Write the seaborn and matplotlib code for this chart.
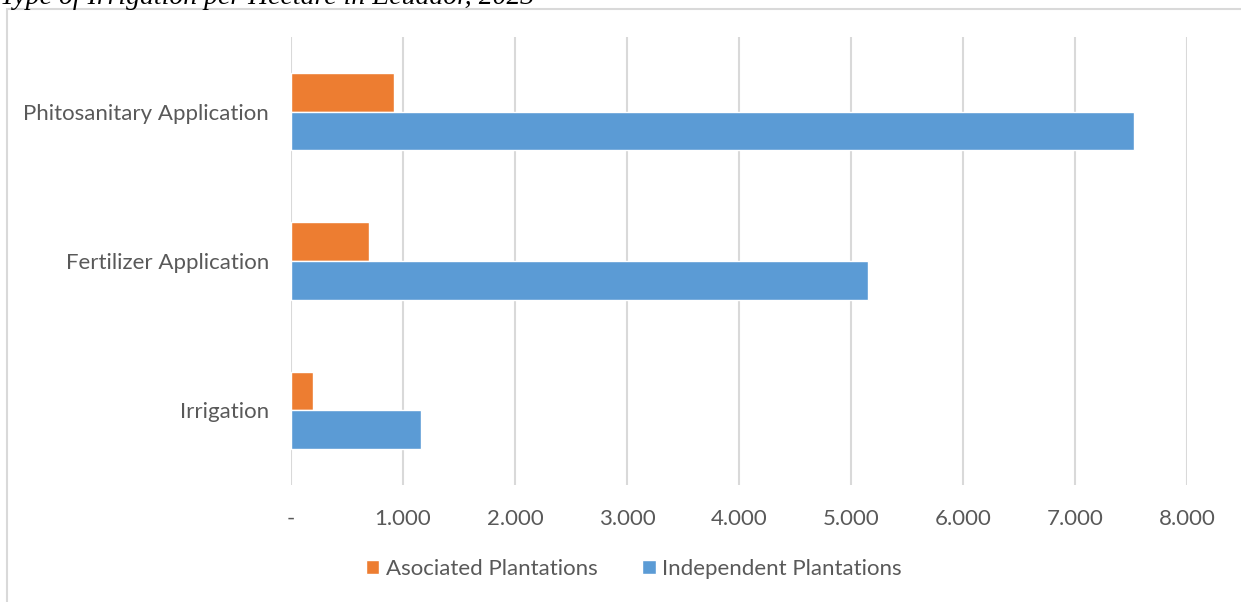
import matplotlib
matplotlib.use("Agg")
import matplotlib.pyplot as plt
from matplotlib.patches import Rectangle
from matplotlib.ticker import FuncFormatter, MultipleLocator
import seaborn as sns
import pandas as pd

categories = ["Phitosanitary Application", "Fertilizer Application", "Irrigation"]
series = ["Asociated Plantations", "Independent Plantations"]
asociated = [920, 700, 195]
independent = [7530, 5150, 1160]
colors = ["#ED7D31", "#5B9BD5"]
title = "Type of Irrigation per Hectare in Ecuador, 2023"

df = pd.DataFrame({
    "category": categories * 2,
    "series": [series[0]] * 3 + [series[1]] * 3,
    "value": asociated + independent,
})

sns.set_theme(style="white")
plt.rcParams["font.family"] = ["Lato", "DejaVu Sans"]
text_color = "#595959"
grid_color = "#d9d9d9"

fig = plt.figure(figsize=(12.41, 6.02), dpi=100)
ax = fig.add_axes([291 / 1241, 1 - 485 / 602, (1187 - 291) / 1241, (485 - 37) / 602])

sns.barplot(data=df, y="category", x="value", hue="series", order=categories,
            hue_order=series, palette=colors, orient="h", width=0.52, gap=0,
            saturation=1, ax=ax, legend=True)

ax.set_xlim(0, 8000)
ax.xaxis.set_major_locator(MultipleLocator(1000))
ax.xaxis.set_major_formatter(FuncFormatter(
    lambda v, p: "-" if v == 0 else f"{int(v):,}".replace(",", ".")))
ax.grid(axis="x", color=grid_color, linewidth=1.5)
ax.set_axisbelow(True)
for s in ax.spines.values():
    s.set_visible(False)
ax.set_xlabel("")
ax.set_ylabel("")
ax.tick_params(axis="both", length=0, labelsize=16, colors=text_color)
ax.tick_params(axis="x", pad=17)
ax.tick_params(axis="y", pad=16)

leg = ax.legend(loc="center", bbox_to_anchor=(634 / 1241, 1 - 569 / 602),
                bbox_transform=fig.transFigure, ncol=2, frameon=False,
                fontsize=16, handlelength=0.6, handleheight=0.6,
                handletextpad=0.3, columnspacing=2.0)
for t in leg.get_texts():
    t.set_color(text_color)

# chart frame
fig.patches.append(Rectangle((7 / 1241, -0.05), 1.2, 1 - 9 / 602 + 0.05,
                             transform=fig.transFigure, fill=False,
                             edgecolor=grid_color, linewidth=1.5))

fig.text(0.0, 1 - 4 / 602, title, family="Liberation Serif", style="italic",
         fontsize=20, color="black", ha="left", va="baseline")

fig.savefig("out.png", dpi=100)
